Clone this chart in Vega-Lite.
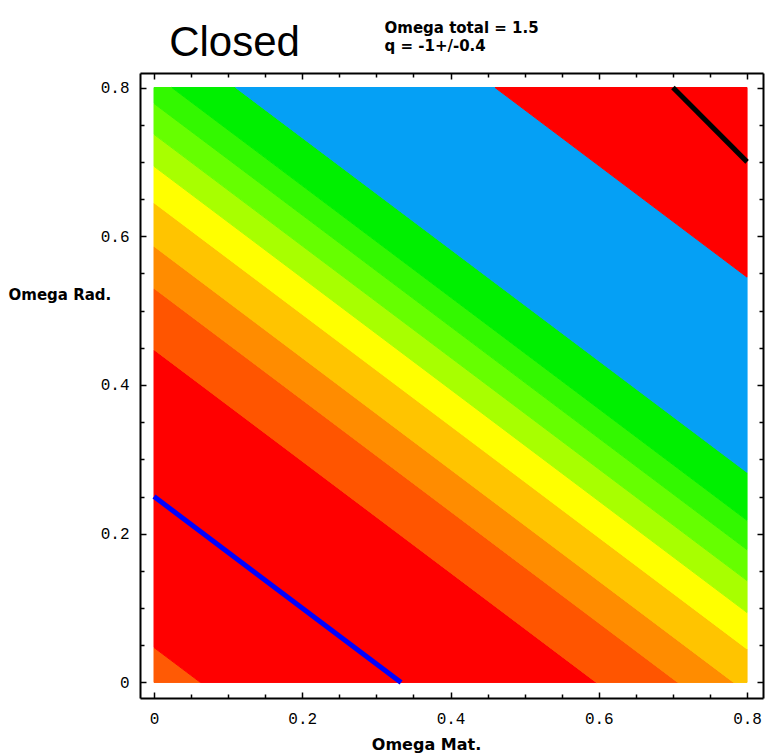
{
  "$schema": "https://vega.github.io/schema/vega-lite/v6.json",
  "width": 623,
  "height": 625,
  "autosize": {"type": "none"},
  "padding": {"left": 140, "top": 73, "right": 6, "bottom": 57},
  "background": "white",
  "config": {
    "view": {"stroke": null},
    "axis": {"grid": false, "domainColor": "black", "domainWidth": 2, "tickColor": "black", "tickWidth": 1.5, "labelFont": "Liberation Mono", "labelFontSize": 16, "labelColor": "black", "titleFont": "DejaVu Sans", "titleFontWeight": "bold", "titleFontSize": 15, "titleColor": "black", "labelOverlap": false, "labelFlush": false}
  },
  "layer": [
    {
      "data": {"values": [
        {"band": "b00", "x": 0, "lo": 0, "hi": 0.047},
        {"band": "b00", "x": 0.0627, "lo": 0, "hi": 0},
        {"band": "b01", "x": 0, "lo": 0.047, "hi": 0.4475},
        {"band": "b01", "x": 0.0627, "lo": 0, "hi": 0.4005},
        {"band": "b01", "x": 0.5967, "lo": 0, "hi": 0},
        {"band": "b02", "x": 0, "lo": 0.4475, "hi": 0.53},
        {"band": "b02", "x": 0.5967, "lo": 0, "hi": 0.0825},
        {"band": "b02", "x": 0.7067, "lo": 0, "hi": 0},
        {"band": "b03", "x": 0, "lo": 0.53, "hi": 0.5865},
        {"band": "b03", "x": 0.7067, "lo": 0, "hi": 0.0565},
        {"band": "b03", "x": 0.782, "lo": 0, "hi": 0},
        {"band": "b04", "x": 0, "lo": 0.5865, "hi": 0.645},
        {"band": "b04", "x": 0.782, "lo": 0, "hi": 0.0585},
        {"band": "b04", "x": 0.8, "lo": 0, "hi": 0.045},
        {"band": "b05", "x": 0, "lo": 0.645, "hi": 0.694},
        {"band": "b05", "x": 0.8, "lo": 0.045, "hi": 0.094},
        {"band": "b06", "x": 0, "lo": 0.694, "hi": 0.737},
        {"band": "b06", "x": 0.8, "lo": 0.094, "hi": 0.137},
        {"band": "b07", "x": 0, "lo": 0.737, "hi": 0.7785},
        {"band": "b07", "x": 0.8, "lo": 0.137, "hi": 0.1785},
        {"band": "b08", "x": 0, "lo": 0.7785, "hi": 0.8},
        {"band": "b08", "x": 0.024, "lo": 0.7605, "hi": 0.8},
        {"band": "b08", "x": 0.8, "lo": 0.1785, "hi": 0.218},
        {"band": "b09", "x": 0.024, "lo": 0.8, "hi": 0.8},
        {"band": "b09", "x": 0.11, "lo": 0.7355, "hi": 0.8},
        {"band": "b09", "x": 0.8, "lo": 0.218, "hi": 0.2825},
        {"band": "b10", "x": 0.11, "lo": 0.8, "hi": 0.8},
        {"band": "b10", "x": 0.46, "lo": 0.5375, "hi": 0.8},
        {"band": "b10", "x": 0.8, "lo": 0.2825, "hi": 0.545},
        {"band": "b11", "x": 0.46, "lo": 0.8, "hi": 0.8},
        {"band": "b11", "x": 0.8, "lo": 0.545, "hi": 0.8}
      ]},
      "mark": {"type": "area", "interpolate": "linear", "strokeWidth": 1, "opacity": 1, "fillOpacity": 1},
      "encoding": {
        "x": {"field": "x", "type": "quantitative",
          "scale": {"domain": [-0.0189, 0.8215], "nice": false, "zero": false},
          "axis": {"orient": "bottom", "title": "Omega Mat.", "titleFontSize": 16, "values": [0, 0.05, 0.1, 0.15, 0.2, 0.25, 0.3, 0.35, 0.4, 0.45, 0.5, 0.55, 0.6, 0.65, 0.7, 0.75, 0.8],
            "labelExpr": "abs(datum.value*5 - round(datum.value*5)) < 0.001 ? format(datum.value, '.1~f') : ''",
            "tickSize": {"condition": {"test": "abs(datum.value*5 - round(datum.value*5)) < 0.001", "value": -6}, "value": -4},
            "labelPadding": 18, "titleX": 286, "titleY": 46, "titleBaseline": "middle", "titleAlign": "center"}},
        "y": {"field": "lo", "type": "quantitative",
          "scale": {"domain": [-0.0209, 0.8195], "nice": false, "zero": false},
          "axis": {"orient": "left", "title": "Omega Rad.", "values": [0, 0.05, 0.1, 0.15, 0.2, 0.25, 0.3, 0.35, 0.4, 0.45, 0.5, 0.55, 0.6, 0.65, 0.7, 0.75, 0.8],
            "labelExpr": "abs(datum.value*5 - round(datum.value*5)) < 0.001 ? format(datum.value, '.1~f') : ''",
            "tickSize": {"condition": {"test": "abs(datum.value*5 - round(datum.value*5)) < 0.001", "value": -6}, "value": -4},
            "labelPadding": 17, "titleAngle": 0, "titleAlign": "left", "titleBaseline": "middle", "titleX": -132, "titleY": 221}},
        "y2": {"field": "hi"},
        "color": {"field": "band", "type": "nominal", "legend": null,
          "scale": {"domain": ["b00", "b01", "b02", "b03", "b04", "b05", "b06", "b07", "b08", "b09", "b10", "b11"],
            "range": ["#ff5a05", "#ff0000", "#ff5500", "#ff8c00", "#ffc400", "#ffff00", "#a8ff00", "#66ff00", "#33f800", "#00f000", "#05a0f5", "#ff0000"]}},
        "stroke": {"field": "band", "type": "nominal", "legend": null,
          "scale": {"domain": ["b00", "b01", "b02", "b03", "b04", "b05", "b06", "b07", "b08", "b09", "b10", "b11"],
            "range": ["#ff5a05", "#ff0000", "#ff5500", "#ff8c00", "#ffc400", "#ffff00", "#a8ff00", "#66ff00", "#33f800", "#00f000", "#05a0f5", "#ff0000"]}}
      }
    },
    {
      "data": {"values": [
        {"line": "q = -1", "x": 0, "y": 0.25},
        {"line": "q = -1", "x": 0.3333, "y": 0},
        {"line": "Omega Lambda = 0", "x": 0.7, "y": 0.8},
        {"line": "Omega Lambda = 0", "x": 0.8, "y": 0.7}
      ]},
      "mark": {"type": "line", "strokeWidth": 5},
      "encoding": {
        "x": {"field": "x", "type": "quantitative",
          "scale": {"domain": [-0.0189, 0.8215], "nice": false, "zero": false},
          "axis": {"orient": "top", "labels": false, "values": [0, 0.05, 0.1, 0.15, 0.2, 0.25, 0.3, 0.35, 0.4, 0.45, 0.5, 0.55, 0.6, 0.65, 0.7, 0.75, 0.8],
            "tickSize": {"condition": {"test": "abs(datum.value*5 - round(datum.value*5)) < 0.001", "value": -6}, "value": -4},
            "title": "Closed", "titleFont": "Liberation Sans", "titleFontWeight": "normal", "titleFontSize": 42, "titleAlign": "center", "titleBaseline": "alphabetic", "titleX": 94, "titleY": -18}},
        "y": {"field": "y", "type": "quantitative",
          "scale": {"domain": [-0.0209, 0.8195], "nice": false, "zero": false},
          "axis": {"orient": "right", "labels": false, "values": [0, 0.05, 0.1, 0.15, 0.2, 0.25, 0.3, 0.35, 0.4, 0.45, 0.5, 0.55, 0.6, 0.65, 0.7, 0.75, 0.8],
            "tickSize": {"condition": {"test": "abs(datum.value*5 - round(datum.value*5)) < 0.001", "value": -6}, "value": -4},
            "title": ["Omega total = 1.5", "q = -1+/-0.4"], "titleAngle": 0, "titleFontSize": 15, "titleLineHeight": 18, "titleAlign": "left", "titleBaseline": "top", "titleX": -379, "titleY": -53}},
        "color": {"field": "line", "type": "nominal", "legend": null,
          "scale": {"domain": ["q = -1", "Omega Lambda = 0"], "range": ["#0000ff", "#000000"]}}
      }
    }
  ],
  "resolve": {"axis": {"x": "independent", "y": "independent"}, "scale": {"color": "independent", "stroke": "independent"}}
}
